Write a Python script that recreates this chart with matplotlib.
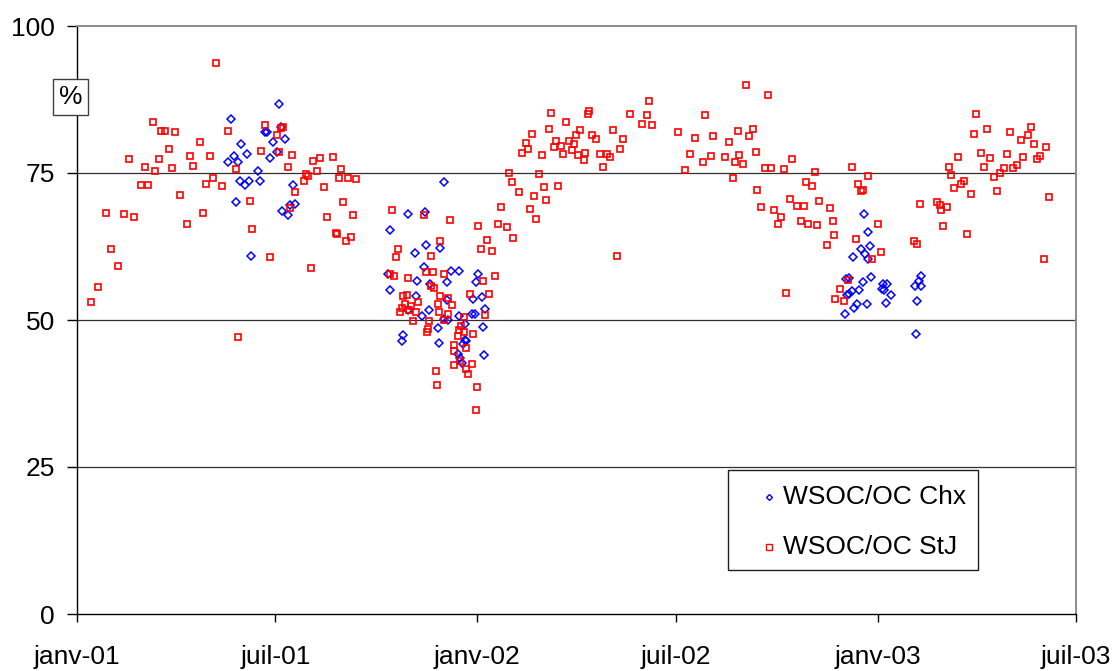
import numpy as np
import matplotlib
matplotlib.use('Agg')
import matplotlib.pyplot as plt
from matplotlib.patches import Rectangle

plt.rcParams['font.family'] = ['Liberation Sans', 'DejaVu Sans']

# ---- data (days since 2001-01-01, value in %) ----
chx_days = [140, 150, 143, 138, 147, 149, 145,
            184, 155, 165, 157, 153, 167, 171, 173, 186, 179, 190, 182, 176, 197, 199, 194, 187, 192, 159,
            302, 317, 285, 318, 308, 316, 284, 310, 322, 285, 309, 302, 321, 315, 329, 297, 296, 330, 331,
            335, 341, 348, 337, 366, 364, 337, 361, 369, 372, 360, 363, 348, 335, 338, 354, 370, 354, 355,
            352, 347, 349, 351, 371,
            718, 721, 715, 723, 719, 721, 708, 704, 701, 724, 717, 735, 739, 734, 736, 742, 713, 707, 704,
            702, 770, 768, 764, 770, 766, 738, 720, 711, 709, 700, 765]
chx_vals = [84.1, 79.9, 77.9, 76.8, 76.9, 73.7, 70.1,
            86.8, 78.2, 75.4, 73.7, 72.9, 73.6, 82.0, 81.9, 82.8, 80.2, 80.8, 78.5, 77.6, 72.9, 69.8, 69.6, 68.6, 67.9, 60.9,
            68.1, 68.4, 65.3, 62.8, 61.4, 59.0, 57.8, 56.6, 56.1, 55.1, 54.1, 51.7, 51.7, 50.7, 48.6, 47.4, 46.5, 46.1, 62.2,
            73.5, 58.4, 58.3, 56.4, 57.8, 56.5, 53.4, 53.5, 53.9, 51.9, 51.0, 51.1, 50.6, 50.1, 50.0, 49.4, 48.8, 46.6, 46.4,
            45.9, 44.2, 43.5, 42.7, 44.0,
            68.0, 64.9, 62.0, 62.6, 61.2, 60.4, 60.7, 57.2, 56.9, 57.3, 56.4, 56.2, 56.2, 55.2, 55.1, 54.3, 55.1, 54.9, 54.4,
            54.3, 57.5, 56.7, 55.7, 55.8, 53.2, 52.9, 52.8, 52.7, 52.1, 51.0, 47.6]

stj_days = [127, 69, 77, 80, 89, 138, 112, 84, 47, 75, 103, 121, 62, 71, 87, 106, 145, 124, 118, 132, 58, 65, 94,
            26, 43, 52, 115, 100, 31, 37, 19, 13, 147,
            171, 188, 186, 182, 168, 184, 196, 192, 215, 222, 233, 219, 209, 211, 207, 241, 239, 247, 254, 225, 199,
            158, 243, 194, 252, 228, 160, 236, 237, 250, 245, 176, 213,
            287, 316, 331, 293, 291, 323, 285, 289, 302, 318, 325, 323, 326, 331, 297, 301, 311, 299, 296, 305, 295,
            309, 303, 329, 330, 306, 321, 320, 319, 327, 328,
            394, 397, 387, 340, 366, 384, 392, 374, 368, 378, 398, 335, 381, 370, 358, 376, 338, 342, 338, 353, 372,
            335, 350, 348, 353, 361, 347, 344, 355, 344, 349, 344, 360, 355, 357, 365, 364,
            522, 432, 467, 466, 504, 520, 446, 515, 524, 430, 459, 489, 415, 455, 470, 473, 548, 498, 409, 411, 406,
            437, 449, 453, 435, 441, 451, 424, 443, 457, 463, 462, 477, 483, 486, 495, 480, 421, 403, 426, 439, 417,
            428, 413, 419, 492,
            610, 630, 573, 564, 580, 603, 616, 613, 595, 559, 578, 591, 604, 600, 607, 571, 619, 554, 598, 627, 633,
            645, 652, 673, 665, 670, 620, 650, 657, 663, 677, 687, 624, 636, 642, 639, 660, 667, 675, 689, 690, 684,
            647, 696, 691, 699,
            707, 721, 712, 715, 717, 769, 730, 710, 763, 766, 733, 725, 703,
            820, 830, 818, 851, 870, 867, 861, 873, 884, 803, 824, 833, 848, 863, 878, 875, 795, 827, 845, 857, 854,
            797, 842, 836, 809, 806, 800, 839, 815, 886, 784, 787, 793, 788, 790, 812, 882]
stj_vals = [93.7, 83.6, 82.1, 82.1, 81.9, 82.1, 80.2, 79.1, 77.3, 77.3, 77.9, 77.9, 76.1, 75.3, 75.9, 76.2, 75.7, 74.1,
            73.1, 72.8, 73.0, 73.0, 71.3, 68.2, 68.0, 67.6, 68.2, 66.3, 62.1, 59.2, 55.6, 53.1, 47.1,
            83.2, 82.8, 82.6, 81.4, 78.7, 78.5, 78.1, 76.0, 77.0, 77.6, 77.7, 75.3, 74.9, 74.5, 73.7, 75.7, 74.2, 74.2,
            74.0, 72.7, 71.8, 70.2, 70.1, 69.0, 67.9, 67.6, 65.5, 64.8, 64.6, 64.2, 63.5, 60.7, 58.9,
            68.7, 67.8, 63.4, 62.0, 60.7, 60.8, 57.9, 57.4, 57.2, 58.1, 58.1, 55.8, 55.4, 54.0, 54.0, 54.3, 53.0, 52.7,
            52.1, 52.3, 51.4, 51.4, 51.7, 52.7, 51.4, 49.8, 49.9, 48.4, 48.0, 41.3, 38.9,
            75.0, 73.4, 69.2, 67.0, 66.0, 66.3, 65.8, 63.6, 62.1, 61.7, 63.9, 57.8, 57.4, 56.7, 54.5, 54.5, 53.8, 52.5,
            51.1, 50.5, 50.8, 50.0, 49.0, 48.3, 47.9, 47.7, 47.2, 45.7, 45.2, 44.8, 43.0, 42.3, 42.6, 41.7, 40.8, 38.6,
            34.7,
            87.2, 85.2, 85.6, 85.0, 85.0, 84.9, 83.6, 83.3, 83.2, 82.4, 82.3, 82.3, 81.6, 81.5, 81.4, 80.7, 81.9, 80.8,
            80.1, 79.1, 78.4, 80.5, 80.5, 79.9, 79.4, 79.6, 78.9, 78.0, 78.2, 78.1, 78.4, 77.2, 78.2, 78.3, 77.7, 79.0,
            76.1, 74.8, 71.8, 72.7, 72.8, 71.1, 70.4, 68.9, 67.1, 60.9,
            89.9, 88.3, 84.8, 81.0, 81.3, 82.1, 82.4, 81.3, 80.3, 78.3, 77.9, 77.8, 78.1, 76.9, 76.6, 76.9, 78.6, 75.5,
            74.2, 75.9, 75.9, 75.7, 77.3, 75.2, 73.5, 72.8, 72.1, 70.6, 69.4, 69.4, 70.2, 69.1, 69.3, 68.7, 67.5, 66.4,
            66.9, 66.3, 66.2, 66.9, 64.5, 62.8, 54.6, 55.3, 53.6, 53.3,
            76.0, 74.5, 73.2, 71.9, 72.1, 69.8, 66.3, 63.8, 63.5, 63.0, 61.6, 60.3, 56.8,
            85.0, 82.5, 81.7, 81.9, 82.9, 81.5, 80.6, 80.0, 79.4, 77.8, 78.4, 77.5, 78.2, 77.7, 77.9, 77.3, 76.1, 76.0,
            75.9, 76.4, 75.8, 74.6, 75.0, 74.4, 73.6, 73.2, 72.4, 72.0, 71.4, 71.0, 70.1, 69.6, 69.3, 68.7, 66.0, 64.7,
            60.4]

series_labels = ['WSOC/OC Chx', 'WSOC/OC StJ']
x_tick_dates = ['2001-01-01', '2001-07-01', '2002-01-01', '2002-07-01', '2003-01-01', '2003-07-01']
x_tick_labels = ['janv-01', 'juil-01', 'janv-02', 'juil-02', 'janv-03', 'juil-03']
y_ticks = [0, 25, 50, 75, 100]

assert len(chx_days) == len(chx_vals)
assert len(stj_days) == len(stj_vals)

start = np.datetime64('2001-01-01')
x_chx = start + np.array(chx_days).astype('timedelta64[D]')
x_stj = start + np.array(stj_days).astype('timedelta64[D]')
xt = np.array(x_tick_dates, dtype='datetime64[D]')

W, H = 1118, 671
fig = plt.figure(figsize=(W / 100, H / 100), dpi=100)
L, R, T, B = 77, 1076, 26, 614
ax = fig.add_axes([L / W, 1 - B / H, (R - L) / W, (B - T) / H])

blue = '#0000FF'
red = '#FF0000'
styles = [dict(marker='D', markersize=3.6, markerfacecolor='none', markeredgecolor=blue, markeredgewidth=1.1),
          dict(marker='s', markersize=5.0, markerfacecolor='none', markeredgecolor=red, markeredgewidth=1.2)]

ax.plot(x_chx, chx_vals, linestyle='none', zorder=3, **styles[0])
ax.plot(x_stj, stj_vals, linestyle='none', zorder=4, **styles[1])

ax.set_xlim(xt[0], xt[-1])
ax.set_ylim(0, 100)

for yv in y_ticks[1:-1]:
    ax.axhline(yv, color='#303030', linewidth=0.9, zorder=1)

ax.set_xticks(xt)
ax.set_xticklabels(x_tick_labels)
ax.set_yticks(y_ticks)
ax.set_yticklabels([str(v) for v in y_ticks])
ax.tick_params(axis='y', direction='out', length=7, width=1, pad=9, labelsize=19, colors='black')
ax.tick_params(axis='x', direction='out', length=6, width=1, pad=16.5, labelsize=19, colors='black')

for s in ['left', 'bottom']:
    ax.spines[s].set_color('black')
    ax.spines[s].set_linewidth(1.0)
for s in ['top', 'right']:
    ax.spines[s].set_color('#8C8C8C')
    ax.spines[s].set_linewidth(1.4)

ax.text(-0.0065, 0.879, '%', transform=ax.transAxes, fontsize=19, ha='center', va='center',
        bbox=dict(boxstyle='square,pad=0.22', facecolor='white', edgecolor='#404040', linewidth=1.0),
        zorder=6, clip_on=False)

# ---- legend box (Excel style) ----
def fx(px):
    return (px - L) / (R - L)

def fy(py):
    return (B - py) / (B - T)

ax.add_patch(Rectangle((fx(728), fy(570)), fx(978) - fx(728), fy(470) - fy(570),
                       transform=ax.transAxes, facecolor='white', edgecolor='#202020',
                       linewidth=1.0, zorder=7, clip_on=False))
legend_styles = [dict(marker='D', markersize=3.0, markerfacecolor='none', markeredgecolor=blue, markeredgewidth=1.0),
                 dict(marker='s', markersize=3.8, markerfacecolor='none', markeredgecolor=red, markeredgewidth=1.0)]
for i, (lab, st) in enumerate(zip(series_labels, legend_styles)):
    yy = fy(497 + 50 * i)
    ax.plot([fx(769)], [yy], transform=ax.transAxes, linestyle='none', zorder=8, clip_on=False, **st)
    ax.text(fx(783), yy, lab, transform=ax.transAxes, fontsize=19, ha='left', va='center', zorder=8)

fig.savefig('out.png', dpi=100)
